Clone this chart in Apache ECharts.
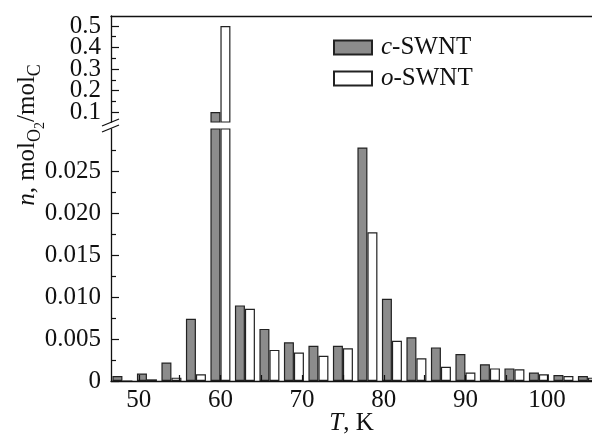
<!DOCTYPE html>
<html>
<head>
<meta charset="utf-8">
<script src="https://cdn.jsdelivr.net/npm/echarts@6/dist/echarts.min.js"></script>
<style>html,body{margin:0;padding:0;background:#fff}#c{width:592px;height:434px}</style>
</head>
<body>
<div id="c"></div>
<script>
// Data
var temps = [48, 51, 54, 57, 60, 63, 66, 69, 72, 75, 78, 81, 84, 87, 90, 93, 96, 99, 102, 105];
var cSWNT = [0.0006, 0.0009, 0.0022, 0.0074, 0.1, 0.0090, 0.0062, 0.0046, 0.0042, 0.0042, 0.0278, 0.0098, 0.0052, 0.0040, 0.0032, 0.0020, 0.0015, 0.0010, 0.0007, 0.0006];
var oSWNT = [0.0, 0.0002, 0.0004, 0.0008, 0.5, 0.0086, 0.0037, 0.0034, 0.0030, 0.0039, 0.0177, 0.0048, 0.0027, 0.0017, 0.0010, 0.0015, 0.0014, 0.0008, 0.0006, 0.0004];
var xLabels = [50, 60, 70, 80, 90, 100];
var xTicks = [50, 55, 60, 65, 70, 75, 80, 85, 90, 95, 100];
var upperLabelsA = [0.1, 0.3, 0.5];
var upperLabelsB = [0.2, 0.4];
var upperMajor = [0.1, 0.2, 0.3, 0.4, 0.5];
var upperMinor = [0.15, 0.25, 0.35, 0.45];
var lowerLabels = [0, 0.005, 0.010, 0.015, 0.020, 0.025];

var FONT = 'Liberation Serif';
var INK = '#111';
var GRAY = '#8c8c8c';

function pairs(vals) { return temps.map(function (t, i) { return [t, vals[i]]; }); }

var X_MIN = 46.6, X_MAX = 105.5;
var UP_MIN = 0.0535, UP_MAX = 0.5465;

var barBase = { type: 'bar', barWidth: 10, barGap: '0%', clip: true };
var cStyle = { color: GRAY, borderColor: '#222', borderWidth: 1.2 };
var oStyle = { color: '#fff', borderColor: '#222', borderWidth: 1.2 };

function upLabel(values) {
  return { customValues: values, fontFamily: FONT, fontSize: 25, color: INK, margin: 10,
    showMinLabel: true, showMaxLabel: true, hideOverlap: false,
    formatter: function (v) { return v.toFixed(1); } };
}

var chart = echarts.init(document.getElementById('c'), null, { renderer: 'canvas' });
chart.setOption({
  animation: false,
  backgroundColor: '#fff',
  textStyle: { fontFamily: FONT },
  grid: [
    { left: 111, right: 0, top: 16, bottom: 312, outerBoundsMode: 'none', containLabel: false },
    { left: 111, right: 0, top: 129, bottom: 53, outerBoundsMode: 'none', containLabel: false }
  ],
  legend: {
    orient: 'vertical', left: 328, top: 30, itemWidth: 38, itemHeight: 14, itemGap: 6,
    icon: 'rect',
    data: ['c-SWNT', 'o-SWNT'],
    formatter: function (name) { return '{i|' + name.charAt(0) + '}-SWNT'; },
    textStyle: {
      fontFamily: FONT, fontSize: 25, color: INK, padding: [0, 0, 0, 4],
      rich: { i: { fontFamily: FONT, fontSize: 25, fontStyle: 'italic', color: INK } }
    }
  },
  xAxis: [
    {
      gridIndex: 0, type: 'value', min: X_MIN, max: X_MAX, position: 'top',
      axisLine: { show: true, lineStyle: { color: INK, width: 1.3 } },
      axisTick: { show: false }, axisLabel: { show: false }, splitLine: { show: false }
    },
    {
      gridIndex: 1, type: 'value', min: X_MIN, max: X_MAX, position: 'bottom', z: 5,
      axisLine: { show: true, onZero: false, lineStyle: { color: INK, width: 1.3 } },
      axisTick: { show: true, inside: true, length: 6, customValues: xTicks, lineStyle: { color: INK, width: 1.2 } },
      axisLabel: { customValues: xLabels, fontFamily: FONT, fontSize: 25, color: INK, margin: 7,
        showMinLabel: true, showMaxLabel: true },
      splitLine: { show: false },
      name: '{i|T}, K', nameLocation: 'middle', nameGap: 30, nameMoveOverlap: false,
      nameTextStyle: {
        fontFamily: FONT, fontSize: 25, color: INK, lineHeight: 25,
        rich: { i: { fontFamily: FONT, fontSize: 25, fontStyle: 'italic', color: INK, lineHeight: 25 } }
      }
    }
  ],
  yAxis: [
    {
      gridIndex: 0, type: 'value', min: UP_MIN, max: UP_MAX, z: 5, position: 'left',
      axisLine: { show: true, lineStyle: { color: INK, width: 1.3 } },
      axisTick: { show: true, inside: true, length: 8, customValues: upperMajor, lineStyle: { color: INK, width: 1.2 } },
      axisLabel: upLabel(upperLabelsA),
      splitLine: { show: false }
    },
    {
      gridIndex: 0, type: 'value', min: UP_MIN, max: UP_MAX, z: 5, position: 'left', offset: 0,
      axisLine: { show: false },
      axisTick: { show: true, inside: true, length: 5, customValues: upperMinor, lineStyle: { color: INK, width: 1.2 } },
      axisLabel: upLabel(upperLabelsB), splitLine: { show: false }
    },
    {
      gridIndex: 1, type: 'value', min: 0, max: 0.03, interval: 0.005, z: 5, position: 'left',
      axisLine: { show: true, lineStyle: { color: INK, width: 1.3 } },
      axisTick: { show: true, inside: true, length: 8, customValues: lowerLabels, lineStyle: { color: INK, width: 1.2 } },
      minorTick: { show: true, splitNumber: 2, length: 5, lineStyle: { color: INK, width: 1.2 } },
      axisLabel: { customValues: lowerLabels, fontFamily: FONT, fontSize: 25, color: INK, margin: 10,
        showMinLabel: true, showMaxLabel: true,
        formatter: function (v) { return v === 0 ? '0' : v.toFixed(3); } },
      splitLine: { show: false }
    }
  ],
  graphic: [
    {
      type: 'text', x: 27, y: 135, rotation: Math.PI / 2,
      style: {
        text: '{i|n}{m|, mol}{s|O}{ss|2}{m|/mol}{s|C}',
        align: 'center', verticalAlign: 'middle',
        rich: {
          i: { fontFamily: FONT, fontSize: 25, fontStyle: 'italic', fill: INK, verticalAlign: 'middle' },
          m: { fontFamily: FONT, fontSize: 25, fill: INK, verticalAlign: 'middle' },
          s: { fontFamily: FONT, fontSize: 18, fill: INK, verticalAlign: 'middle', padding: [16, 0, 0, 0] },
          ss: { fontFamily: FONT, fontSize: 14, fill: INK, verticalAlign: 'middle', padding: [26, 0, 0, 0] }
        }
      }
    },
    { type: 'line', shape: { x1: 102, y1: 126, x2: 119, y2: 119 }, style: { stroke: INK, lineWidth: 1.3 }, z: 10 },
    { type: 'line', shape: { x1: 102, y1: 132, x2: 119, y2: 125 }, style: { stroke: INK, lineWidth: 1.3 }, z: 10 }
  ],
  series: [
    Object.assign({}, barBase, { name: 'c-SWNT', xAxisIndex: 0, yAxisIndex: 0, data: pairs(cSWNT), itemStyle: cStyle }),
    Object.assign({}, barBase, { name: 'o-SWNT', xAxisIndex: 0, yAxisIndex: 0, data: pairs(oSWNT), itemStyle: oStyle }),
    Object.assign({}, barBase, { name: 'c-SWNT', xAxisIndex: 1, yAxisIndex: 2, data: pairs(cSWNT), itemStyle: cStyle }),
    Object.assign({}, barBase, { name: 'o-SWNT', xAxisIndex: 1, yAxisIndex: 2, data: pairs(oSWNT), itemStyle: oStyle })
  ]
});
</script>
</body>
</html>
